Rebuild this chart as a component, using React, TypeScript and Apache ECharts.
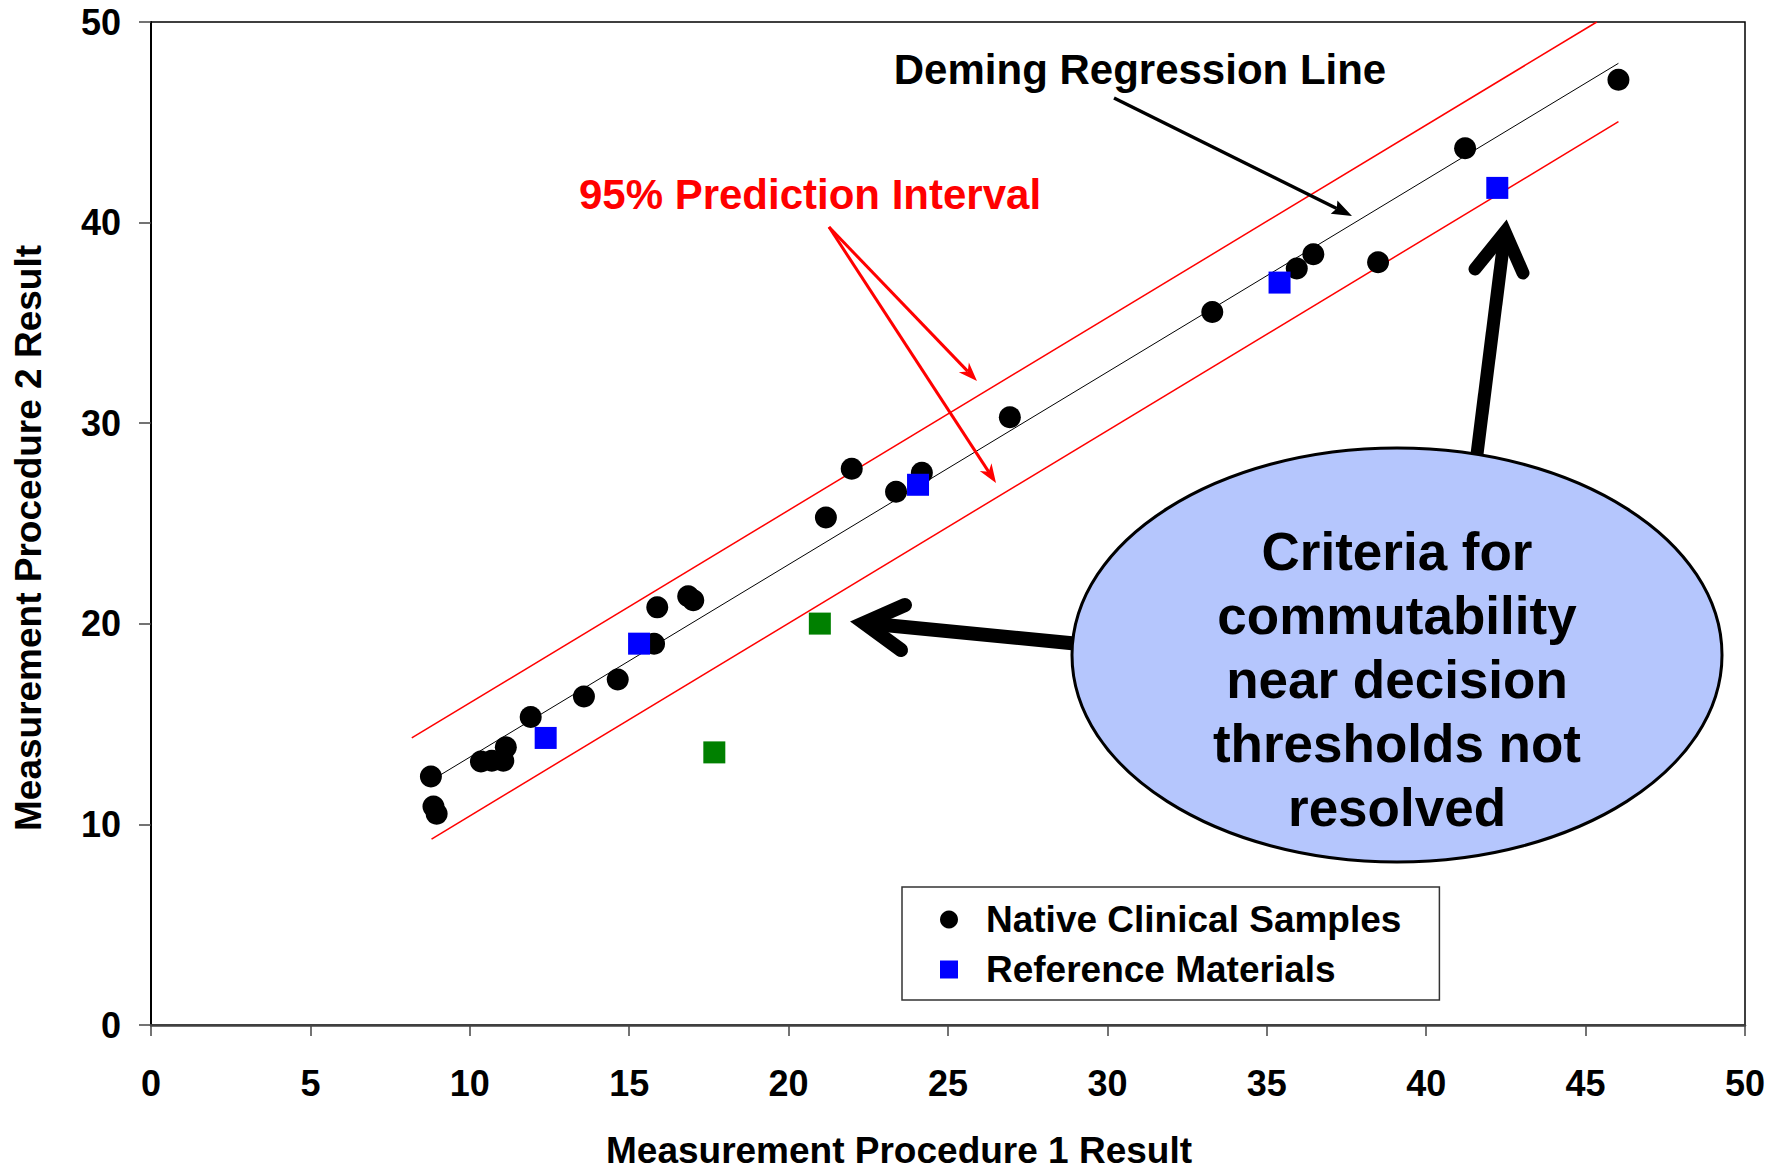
import React, { useEffect, useRef } from "react";
import * as echarts from "echarts";

const FONT = '"Liberation Sans", Arial, Helvetica, sans-serif';

// ---- data ----
const xTicks = [0, 5, 10, 15, 20, 25, 30, 35, 40, 45, 50];
const yTicks = [0, 10, 20, 30, 40, 50];

const nativeX = [8.78, 8.86, 8.96, 10.35, 10.69, 11.05, 11.13, 11.91, 13.58, 14.64, 15.78, 15.88, 16.85, 17.01, 21.17, 21.98, 23.37, 24.18, 26.94, 33.29, 35.94, 36.46, 38.49, 41.22, 46.03];
const nativeY = [12.39, 10.89, 10.53, 13.14, 13.17, 13.17, 13.84, 15.35, 16.38, 17.22, 19.01, 20.82, 21.37, 21.17, 25.3, 27.73, 26.58, 27.53, 30.3, 35.54, 37.71, 38.42, 38.02, 43.71, 47.12];

const refX = [12.38, 15.31, 24.06, 35.4, 42.23];
const refY = [14.31, 19.01, 26.93, 37.01, 41.73];

const outlierX = [17.67, 20.98];
const outlierY = [13.59, 20.01];

const demingX = [8.8, 46.03];
const demingY = [12.2, 47.94];
const upperX = [8.18, 45.35];
const upperY = [14.31, 50.0];
const lowerX = [8.8, 46.03];
const lowerY = [9.27, 45.03];

const zip = (xs: number[], ys: number[]) => xs.map((x, i) => [x, ys[i]]);

function thinArrow(
  x1: number, y1: number, x2: number, y2: number,
  color: string, lw: number, len: number, hw: number, notch: number
) {
  const dx = x2 - x1, dy = y2 - y1;
  const L = Math.sqrt(dx * dx + dy * dy);
  const ux = dx / L, uy = dy / L;
  const px = -uy, py = ux;
  const bx = x2 - ux * len, by = y2 - uy * len;
  const nx = x2 - ux * len * notch, ny = y2 - uy * len * notch;
  return [
    { type: "line", z: 20, shape: { x1, y1, x2: nx, y2: ny }, style: { stroke: color, lineWidth: lw } },
    {
      type: "polygon", z: 20,
      shape: { points: [[x2, y2], [bx + px * hw, by + py * hw], [nx, ny], [bx - px * hw, by - py * hw]] },
      style: { fill: color },
    },
  ];
}

export default function App() {
  const ref = useRef<HTMLDivElement>(null);
  useEffect(() => {
    if (!ref.current) return;
    const chart = echarts.init(ref.current, null, { renderer: "svg" });
    const option: any = {
      animation: false,
      backgroundColor: "#fff",
      grid: { left: 151, right: 26, top: 22, bottom: 146, show: true, borderColor: "#000", borderWidth: 1.5 },
      xAxis: {
        type: "value", min: xTicks[0], max: xTicks[xTicks.length - 1], interval: 5,
        axisLine: { show: true, lineStyle: { color: "#404040", width: 2.5 } },
        axisTick: { show: true, length: 11, lineStyle: { color: "#444", width: 1.5 } },
        axisLabel: { fontSize: 36, fontWeight: "bold", color: "#000", fontFamily: FONT, margin: 40 },
        splitLine: { show: false },
      },
      yAxis: {
        type: "value", min: yTicks[0], max: yTicks[yTicks.length - 1], interval: 10,
        axisLine: { show: true, lineStyle: { color: "#000", width: 2 } },
        axisTick: { show: true, length: 12, lineStyle: { color: "#444", width: 1.5 } },
        axisLabel: { fontSize: 36, fontWeight: "bold", color: "#000", fontFamily: FONT, margin: 30 },
        splitLine: { show: false },
      },
      legend: {
        left: 902, top: 887, orient: "vertical",
        data: [
          { name: "Native Clinical Samples", icon: "circle" },
          { name: "Reference Materials", icon: "rect" },
        ],
        itemWidth: 18, itemHeight: 18, itemGap: 13,
        padding: [14, 38, 12, 38],
        borderColor: "#333", borderWidth: 1.5, backgroundColor: "#fff",
        textStyle: { fontSize: 37, fontWeight: "bold", color: "#000", fontFamily: FONT, padding: [0, 0, 0, 23] },
      },
      series: [
        { type: "line", name: "Upper PI", data: zip(upperX, upperY), showSymbol: false, lineStyle: { color: "#ff0000", width: 1.5 }, z: 1 },
        { type: "line", name: "Deming", data: zip(demingX, demingY), showSymbol: false, lineStyle: { color: "#000", width: 1 }, z: 1 },
        { type: "line", name: "Lower PI", data: zip(lowerX, lowerY), showSymbol: false, lineStyle: { color: "#ff0000", width: 1.5 }, z: 1 },
        { type: "scatter", name: "Native Clinical Samples", data: zip(nativeX, nativeY), symbol: "circle", symbolSize: 22, itemStyle: { color: "#000", opacity: 1 }, z: 3 },
        { type: "scatter", name: "Reference Materials", data: zip(refX, refY), symbol: "rect", symbolSize: 22, itemStyle: { color: "#0000ff", opacity: 1 }, z: 4 },
        { type: "scatter", name: "Non-commutable Materials", data: zip(outlierX, outlierY), symbol: "rect", symbolSize: 22, itemStyle: { color: "#008000", opacity: 1 }, z: 4 },
      ],
      graphic: [
        // axis titles
        { type: "text", x: 899, y: 1150, z: 30, style: { text: "Measurement Procedure 1 Result", fontSize: 37, fontWeight: "bold", fontFamily: FONT, fill: "#000", textAlign: "center", textVerticalAlign: "middle" } },
        { type: "text", x: 28, y: 538, rotation: Math.PI / 2, z: 30, style: { text: "Measurement Procedure 2 Result", fontSize: 37, fontWeight: "bold", fontFamily: FONT, fill: "#000", textAlign: "center", textVerticalAlign: "middle" } },
        // annotations
        { type: "text", x: 1140, y: 69, z: 30, style: { text: "Deming Regression Line", fontSize: 42, fontWeight: "bold", fontFamily: FONT, fill: "#000", textAlign: "center", textVerticalAlign: "middle" } },
        { type: "text", x: 810, y: 194, z: 30, style: { text: "95% Prediction Interval", fontSize: 42, fontWeight: "bold", fontFamily: FONT, fill: "#ff0000", textAlign: "center", textVerticalAlign: "middle" } },
        ...thinArrow(1114, 98, 1352, 216, "#000", 3.5, 20, 7.5, 0.85),
        ...thinArrow(829, 227, 977, 381, "#ff0000", 3, 19, 7, 0.7),
        ...thinArrow(829, 227, 996, 483, "#ff0000", 3, 19, 7, 0.7),
        // big arrows
        { type: "line", z: 20, shape: { x1: 1090, y1: 645, x2: 864, y2: 623 }, style: { stroke: "#000", lineWidth: 14 } },
        { type: "polyline", z: 20, shape: { points: [[905, 605], [864, 623], [901, 650]] }, style: { stroke: "#000", lineWidth: 14, lineCap: "round", lineJoin: "miter", fill: null } },
        { type: "line", z: 20, shape: { x1: 1475, y1: 470, x2: 1505, y2: 232 }, style: { stroke: "#000", lineWidth: 13 } },
        { type: "polyline", z: 20, shape: { points: [[1475, 269], [1505, 232], [1523, 273]] }, style: { stroke: "#000", lineWidth: 13, lineCap: "round", lineJoin: "miter", fill: null } },
        // ellipse callout
        { type: "ellipse", z: 21, shape: { cx: 1397, cy: 655, rx: 325, ry: 207 }, style: { fill: "#b5c6fd", stroke: "#000", lineWidth: 3 } },
        { type: "text", x: 1397, y: 679, z: 22, style: { text: "Criteria for\ncommutability\nnear decision\nthresholds not\nresolved", fontSize: 53, lineHeight: 64, fontWeight: "bold", fontFamily: FONT, fill: "#000", textAlign: "center", textVerticalAlign: "middle" } },
      ],
    };
    chart.setOption(option);
    return () => chart.dispose();
  }, []);
  return <div ref={ref} style={{ position: "fixed", left: 0, top: 0, width: 1771, height: 1171, background: "#fff" }} />;
}
